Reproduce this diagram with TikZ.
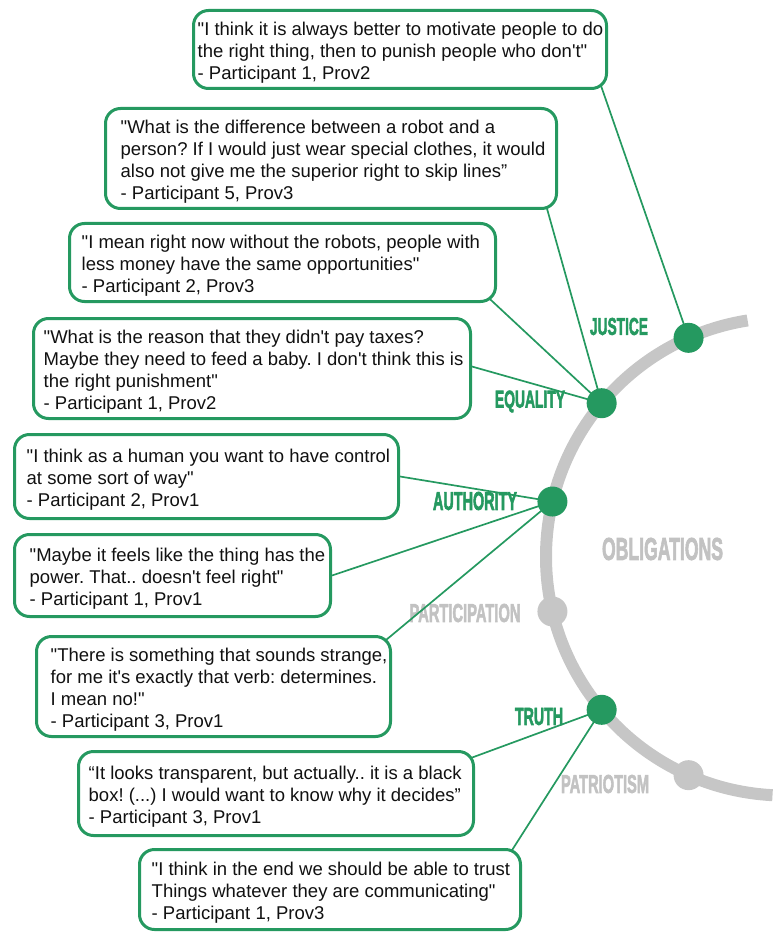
\documentclass[tikz,border=0pt]{standalone}
\usepackage{fontspec}
\usepackage{graphicx}
\usetikzlibrary{calc}
\newfontfamily\qfont{Liberation Sans}
\newfontfamily\labfont{Liberation Sans}[BoldFeatures={FakeBold=3}]
\definecolor{leaf}{HTML}{259960}
\definecolor{ash}{HTML}{C6C6C6}
\definecolor{ashtext}{HTML}{C2C2C2}
\definecolor{ink}{HTML}{111111}
% condensed capitals: width and cap height given in pt
\newcommand{\squeezed}[3]{\resizebox{#1pt}{#2pt}{\labfont\bfseries #3}}
\pgfdeclarelayer{ring}
\pgfdeclarelayer{wires}
\pgfsetlayers{ring,wires,main}
\tikzset{
  quotebox/.style={draw=leaf, line width=3pt, rounded corners=15pt, fill=white, inner sep=0pt},
  quotetext/.style={anchor=west, inner sep=0pt, align=left, text=ink,
    font=\qfont\fontsize{18.5}{22}\selectfont\frenchspacing},
  link/.style={draw=leaf, line width=1.7pt},
  gdot/.style={circle, fill=leaf, minimum size=30pt, inner sep=0pt},
  adot/.style={circle, fill=ash, minimum size=30pt, inner sep=0pt},
  lab/.style={inner sep=0pt},
}
\begin{document}
\begin{tikzpicture}[x=1pt, y=-1pt]
\useasboundingbox (0,0) rectangle (779,933);

% ring of values
\coordinate (c) at (785,556.5);
\begin{pgfonlayer}{ring}
  \draw[ash, line width=12pt] ($(c)+(93:239)$) arc[start angle=93, end angle=261, radius=239];
\end{pgfonlayer}
\node[gdot] (justice)   at ($(c)+(246.2:239)$) {};
\node[gdot] (equality)  at ($(c)+(219.9:239)$) {};
\node[gdot] (authority) at ($(c)+(193.3:239)$) {};
\node[adot] (particip)  at ($(c)+(166.7:239)$) {};
\node[gdot] (truth)     at ($(c)+(140.1:239)$) {};
\node[adot] (patriot)   at ($(c)+(113.8:239)$) {};

% value labels
\begin{pgfonlayer}{ring}
  \node[lab, text=leaf]     (ljustice)  at (619,326.5) {\squeezed{58}{17}{JUSTICE}};
  \node[lab, text=leaf]     (lequality) at (530,401.5) {\squeezed{70}{17}{EQUALITY}};
  \node[lab, text=leaf]     (lauth)     at (475,501)   {\squeezed{84}{18}{AUTHORITY}};
  \node[lab, text=ashtext]  (lpart)     at (465,613)   {\squeezed{111}{18}{PARTICIPATION}};
  \node[lab, text=leaf]     (ltruth)    at (539,716.5) {\squeezed{48}{17}{TRUTH}};
  \node[lab, text=ashtext]  (lpatriot)  at (605,784)   {\squeezed{88}{18}{PATRIOTISM}};
  \node[lab, text=ashtext]  (lobl)      at (662.5,549) {\squeezed{121}{22}{OBLIGATIONS}};
\end{pgfonlayer}

% quote boxes
\node[quotebox, minimum width=413pt, minimum height=78pt]  (b1) at (400,49.5) {};
\node[quotetext] (q1) at ([shift={(5.5,3.5)}]b1.west)
  {"I think it is always better to motivate people to do\\the right thing, then to punish people who don't"\\- Participant 1, Prov2};

\node[quotebox, minimum width=451pt, minimum height=100pt] (b2) at (331,158.5) {};
\node[quotetext] (q2) at ([shift={(16.5,3.5)}]b2.west)
  {"What is the difference between a robot and a\\person? If I would just wear special clothes, it would\\also not give me the superior right to skip lines”\\- Participant 5, Prov3};

\node[quotebox, minimum width=426pt, minimum height=78pt]  (b3) at (282.5,262.5) {};
\node[quotetext] (q3) at ([shift={(13.5,3.5)}]b3.west)
  {"I mean right now without the robots, people with\\less money have the same opportunities"\\- Participant 2, Prov3};

\node[quotebox, minimum width=437pt, minimum height=100pt] (b4) at (252,368.5) {};
\node[quotetext] (q4) at ([shift={(11.5,3.5)}]b4.west)
  {"What is the reason that they didn't pay taxes?\\Maybe they need to feed a baby. I don't think this is\\the right punishment"\\- Participant 1, Prov2};

\node[quotebox, minimum width=384pt, minimum height=84pt]  (b5) at (206.5,476.5) {};
\node[quotetext] (q5) at ([shift={(13.5,3.5)}]b5.west)
  {"I think as a human you want to have control\\at some sort of way"\\- Participant 2, Prov1};

\node[quotebox, minimum width=316pt, minimum height=82pt]  (b6) at (172.5,575.5) {};
\node[quotetext] (q6) at ([shift={(16.5,3.5)}]b6.west)
  {"Maybe it feels like the thing has the\\power. That.. doesn't feel right"\\- Participant 1, Prov1};

\node[quotebox, minimum width=354pt, minimum height=100pt] (b7) at (213.5,686.5) {};
\node[quotetext] (q7) at ([shift={(15.5,3.5)}]b7.west)
  {"There is something that sounds strange,\\for me it's exactly that verb: determines.\\I mean no!"\\- Participant 3, Prov1};

\node[quotebox, minimum width=395pt, minimum height=84pt]  (b8) at (276,793.5) {};
\node[quotetext] (q8) at ([shift={(11.5,3.5)}]b8.west)
  {“It looks transparent, but actually.. it is a black\\box! (...) I would want to know why it decides”\\- Participant 3, Prov1};

\node[quotebox, minimum width=381pt, minimum height=80pt]  (b9) at (330,889.5) {};
\node[quotetext] (q9) at ([shift={(13.5,3.5)}]b9.west)
  {"I think in the end we should be able to trust\\Things whatever they are communicating"\\- Participant 1, Prov3};

% connectors from quotes to values
\begin{pgfonlayer}{wires}
  \draw[link] ([shift={(-9,-10)}]b1.south east) -- (justice.center);
  \draw[link] ([shift={(-14,-12)}]b2.south east) -- (equality.center);
  \draw[link] ([shift={(-12,-8.5)}]b3.south east) -- (equality.center);
  \draw[link] ([shift={(-9,-4.5)}]b4.east) -- (equality.center);
  \draw[link] (b5.east) -- (authority.center);
  \draw[link] (b6.east) -- (authority.center);
  \draw[link] ([shift={(-12,10)}]b7.north east) -- (authority.center);
  \draw[link] ([shift={(-15,12)}]b8.north east) -- (truth.center);
  \draw[link] ([shift={(-15,10)}]b9.north east) -- (truth.center);
\end{pgfonlayer}
\end{tikzpicture}
\end{document}
